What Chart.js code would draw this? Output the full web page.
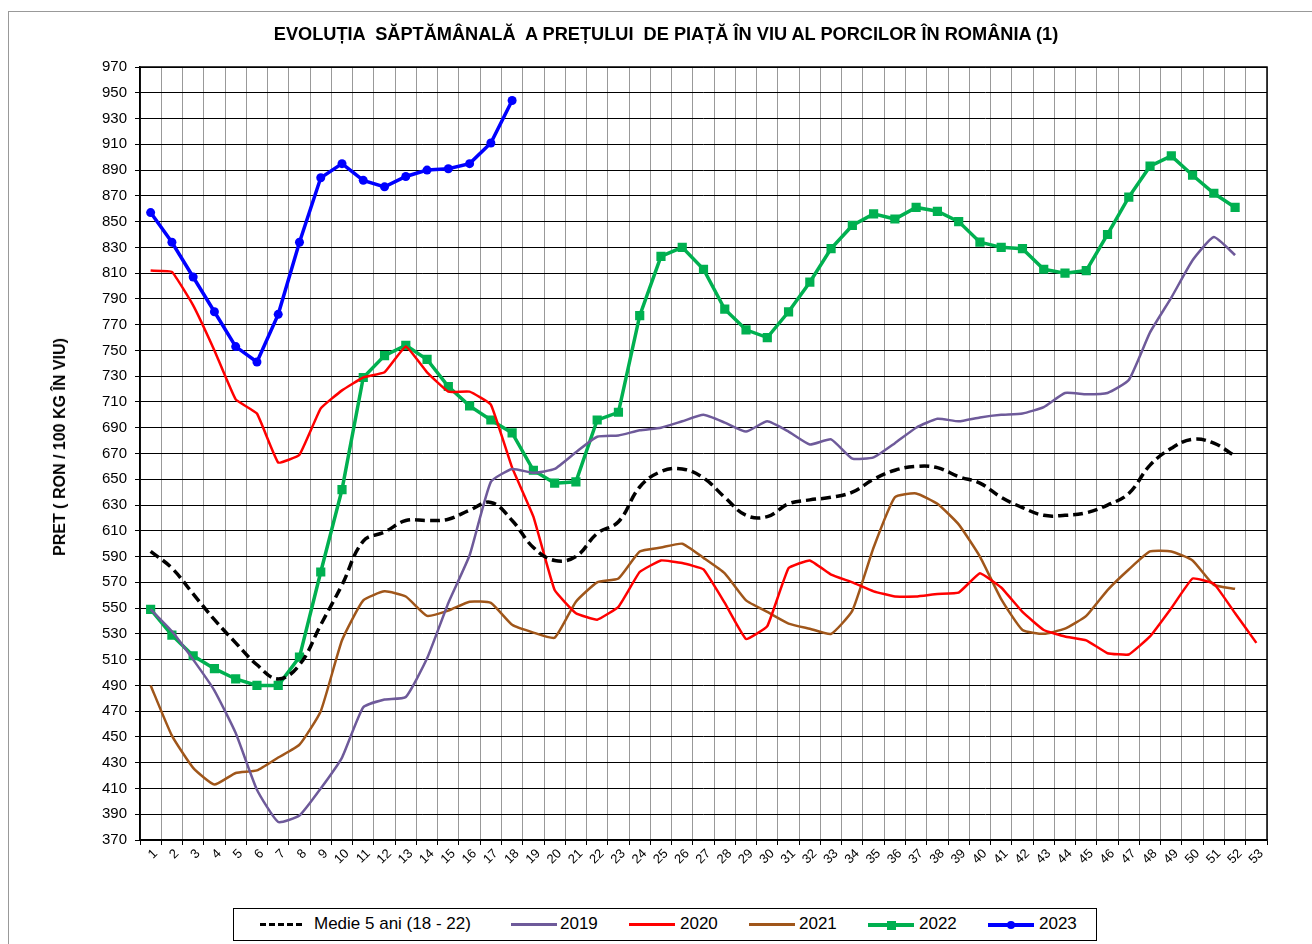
<!DOCTYPE html>
<html>
<head>
<meta charset="utf-8">
<script src="https://cdn.jsdelivr.net/npm/chart.js@4.4.1/dist/chart.umd.min.js"></script>
<style>
  html, body { margin: 0; padding: 0; background: #fff; }
  body { width: 1312px; height: 944px; position: relative; overflow: hidden; font-family: "Liberation Sans", Arial, sans-serif; }
  #frame { position: absolute; left: 8px; top: 11px; width: 1330px; height: 960px; border: 1px solid #999; }
  #chart { position: absolute; left: 0; top: 0; }
  #title { position: absolute; left: 0; width: 1332px; top: 24px; text-align: center; font-weight: bold; font-size: 18.2px; white-space: pre; color: #000; }
  #ytitle { position: absolute; left: 60px; top: 447px; transform: translate(-50%, -50%) rotate(-90deg); font-weight: bold; font-size: 16px; white-space: pre; }
  #legend { position: absolute; left: 233px; top: 908px; width: 864px; height: 33px; border: 1px solid #000; background: #fff; box-sizing: border-box; font-size: 17px; }
  .item { position: absolute; top: 5px; height: 20px; line-height: 20px; }
  .sample { position: absolute; top: 9px; height: 0; }
  .mark { position: absolute; }
</style>
</head>
<body>
<div id="frame"></div>
<canvas id="chart" width="1312" height="944"></canvas>
<div id="title">EVOLUȚIA  SĂPTĂMÂNALĂ  A PREȚULUI  DE PIAȚĂ ÎN VIU AL PORCILOR ÎN ROMÂNIA (1)</div>
<div id="ytitle">PRET ( RON / 100 KG ÎN VIU)</div>
<div id="legend"></div>
<script>
const weeks = ["1","2","3","4","5","6","7","8","9","10","11","12","13","14","15","16","17","18","19","20",
  "21","22","23","24","25","26","27","28","29","30","31","32","33","34","35","36","37","38","39","40",
  "41","42","43","44","45","46","47","48","49","50","51","52","53"];

const medie = [594,581,561,541,523,506,495,506,537,568,602,609,618,618,619,626,632,618,597,587,
  590,608,617,644,656,658,651,636,622,621,631,634,636,640,650,657,660,659,652,647,
  636,628,622,622,624,630,639,661,674,681,678,668];
const y2019 = [549,532,510,486,453,409,384,389,410,434,473,479,481,511,554,591,648,658,655,658,
  671,683,684,688,690,695,700,694,687,695,687,677,681,666,667,678,690,697,695,698,
  700,701,706,717,716,717,727,764,791,820,838,824];
const y2020 = [812,811,785,750,712,701,663,669,705,719,729,733,753,733,718,718,708,659,621,564,
  546,541,551,578,587,585,580,554,526,536,581,587,576,570,563,559,559,561,562,577,
  566,547,533,528,525,515,514,528,550,573,569,546,523];
const y2021 = [490,451,426,413,422,424,434,444,470,525,556,563,559,544,548,555,554,537,531,527,
  555,570,573,594,597,600,589,577,556,547,538,534,530,548,597,636,639,631,615,590,
  557,533,530,534,544,564,580,594,594,587,568,565];
const y2022 = [549,529,513,503,495,490,490,512,578,642,729,746,754,743,722,707,696,686,657,647,
  648,696,702,777,823,830,813,782,766,760,780,803,829,847,856,852,861,858,850,834,
  830,829,813,810,812,840,869,893,901,886,872,861];
const y2023 = [857,834,807,780,753,741,778,834,884,895,882,877,885,890,891,895,911,944];

const FONT = "'Liberation Sans', Arial, sans-serif";

const frame = {
  id: "plotFrame",
  afterDraw(chart) {
    const { ctx, chartArea: a } = chart;
    ctx.save();
    ctx.strokeStyle = "#000";
    ctx.lineWidth = 1.5;
    ctx.strokeRect(a.left, a.top, a.right - a.left, a.bottom - a.top);
    ctx.restore();
  }
};

new Chart(document.getElementById("chart"), {
  type: "line",
  data: {
    labels: weeks,
    datasets: [
      { label: "Medie 5 ani (18 - 22)", data: medie, borderColor: "#000", borderWidth: 3.5,
        borderDash: [10, 5], pointRadius: 0, tension: 0.4 },
      { label: "2019", data: y2019, borderColor: "#6E5A9A", borderWidth: 2.5, pointRadius: 0, tension: 0.15 },
      { label: "2020", data: y2020, borderColor: "#FF0000", borderWidth: 2.5, pointRadius: 0, tension: 0.1 },
      { label: "2021", data: y2021, borderColor: "#A0561A", borderWidth: 2.5, pointRadius: 0, tension: 0.15 },
      { label: "2022", data: y2022, borderColor: "#00B050", backgroundColor: "#00B050", borderWidth: 3.5,
        pointStyle: "rect", pointRadius: 6.5, pointBorderWidth: 0, tension: 0 },
      { label: "2023", data: y2023, borderColor: "#0000FF", backgroundColor: "#0000FF", borderWidth: 3.5,
        pointStyle: "circle", pointRadius: 4.5, pointBorderWidth: 0, tension: 0 }
    ]
  },
  options: {
    responsive: false,
    animation: false,
    layout: { padding: { left: 0, right: 45, top: 67, bottom: 0 } },
    plugins: { legend: { display: false }, tooltip: { enabled: false } },
    scales: {
      x: {
        offset: true,
        grid: { offset: true, color: "#999", lineWidth: 1, tickColor: "#000", tickLength: 5, drawTicks: true },
        border: { color: "#000", width: 1.5 },
        ticks: { color: "#000", font: { family: FONT, size: 13 }, minRotation: 45, maxRotation: 45,
          autoSkip: false, padding: 1, labelOffset: 5 },
        afterFit(s) { s.height = 104; }
      },
      y: {
        min: 370, max: 970,
        grid: {
          color: (c) => ((c.tick.value - 370) % 20 === 0 ? "#000" : "#BBB"),
          lineWidth: 1, tickColor: "#000", tickLength: 5
        },
        border: { color: "#000", width: 1.5 },
        ticks: {
          stepSize: 10, color: "#000", padding: 8, font: { family: FONT, size: 15 },
          callback: (v) => ((v - 370) % 20 === 0 ? v : "")
        },
        afterFit(s) { s.width = 140; }
      }
    }
  },
  plugins: [frame]
});

// legend
const legendItems = [
  { text: "Medie 5 ani (18 - 22)", color: "#000", dash: true, x: 26, tx: 80, w: 42 },
  { text: "2019", color: "#6E5A9A", x: 277, tx: 326, w: 46 },
  { text: "2020", color: "#FF0000", x: 395, tx: 446, w: 46 },
  { text: "2021", color: "#A0561A", x: 515, tx: 565, w: 46 },
  { text: "2022", color: "#00B050", x: 634, tx: 685, w: 46, mark: "rect" },
  { text: "2023", color: "#0000FF", x: 754, tx: 805, w: 46, mark: "circle" }
];
const leg = document.getElementById("legend");
legendItems.forEach((it) => {
  const s = document.createElement("div");
  s.className = "sample";
  s.style.left = it.x + "px";
  s.style.top = "14px";
  s.style.width = it.w + "px";
  s.style.borderTop = (it.mark ? 4 : 3) + "px " + (it.dash ? "dashed" : "solid") + " " + it.color;
  leg.appendChild(s);
  if (it.mark) {
    const m = document.createElement("div");
    m.className = "mark";
    const sz = it.mark === "rect" ? 9 : 8;
    m.style.width = sz + "px";
    m.style.height = sz + "px";
    m.style.left = (it.x + it.w / 2 - sz / 2) + "px";
    m.style.top = (16 - sz / 2) + "px";
    m.style.background = it.color;
    if (it.mark === "circle") m.style.borderRadius = "50%";
    leg.appendChild(m);
  }
  const t = document.createElement("div");
  t.className = "item";
  t.style.left = it.tx + "px";
  t.textContent = it.text;
  leg.appendChild(t);
});
</script>
</body>
</html>
